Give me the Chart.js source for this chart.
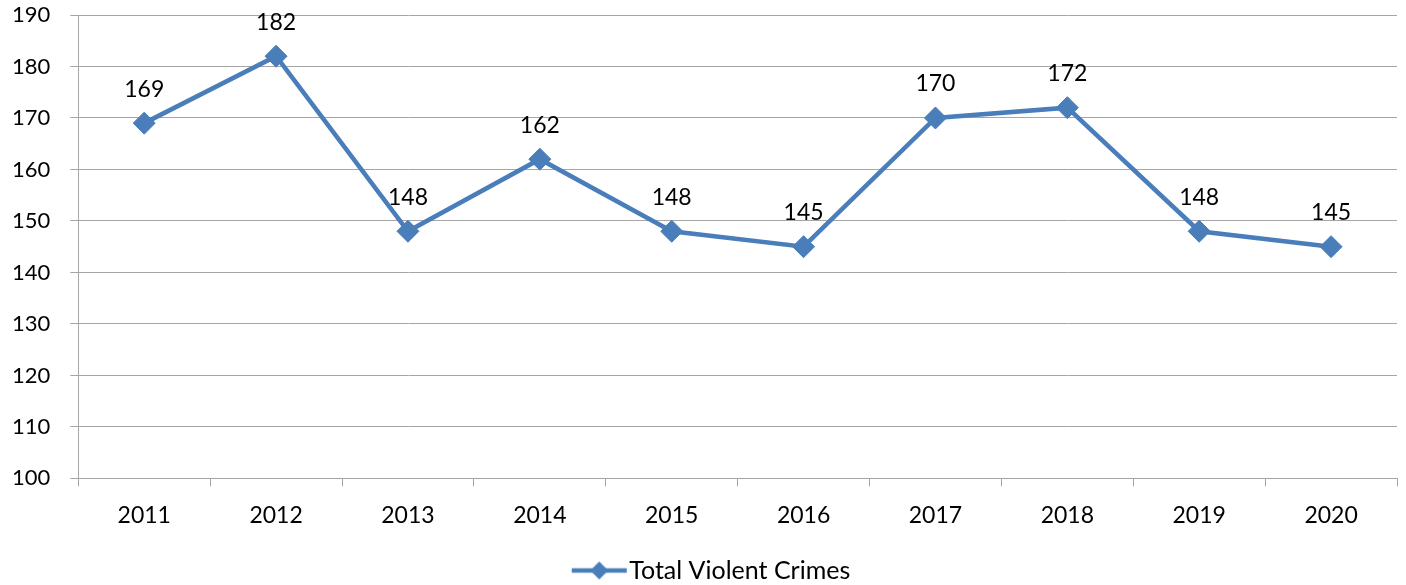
<!DOCTYPE html>
<html>
<head>
<meta charset="utf-8">
<script src="https://cdn.jsdelivr.net/npm/chart.js@4/dist/chart.umd.min.js"></script>
<style>
  html,body{margin:0;padding:0;background:#fff;}
  #wrap{width:1406px;height:585px;position:relative;}
</style>
</head>
<body>
<div id="wrap"><canvas id="c" width="1406" height="585"></canvas></div>
<script>
const categories = ['2011','2012','2013','2014','2015','2016','2017','2018','2019','2020'];
const violentCrimes = [169,182,148,162,148,145,170,172,148,145];
const seriesName = 'Total Violent Crimes';
const yTicks = [100,110,120,130,140,150,160,170,180,190];

const LINE = '#4a7ebb';
const FONT = 'Lato, "Open Sans", sans-serif';

// legend symbol: line with diamond (drawn in right part of a wider transparent image)
const sym = document.createElement('canvas');
sym.width = 100; sym.height = 22;
(function(){
  const g = sym.getContext('2d');
  const x0 = 44, x1 = 99, cx = (x0 + x1) / 2;
  g.strokeStyle = LINE; g.lineWidth = 4.5;
  g.beginPath(); g.moveTo(x0,11); g.lineTo(x1,11); g.stroke();
  g.fillStyle = LINE;
  g.beginPath(); g.moveTo(cx,2); g.lineTo(cx+9,11); g.lineTo(cx,20); g.lineTo(cx-9,11); g.closePath(); g.fill();
})();

const labelPlugin = {
  id: 'valLabels',
  afterDatasetsDraw(chart){
    const ctx = chart.ctx;
    const meta = chart.getDatasetMeta(0);
    ctx.save();
    ctx.font = '23px ' + FONT;
    ctx.fillStyle = '#000';
    ctx.textAlign = 'center';
    ctx.textBaseline = 'middle';
    meta.data.forEach((pt,i)=>{
      ctx.fillText(String(chart.data.datasets[0].data[i]), pt.x, pt.y - 34);
    });
    ctx.restore();
  }
};

new Chart(document.getElementById('c'), {
  type: 'line',
  data: {
    labels: categories,
    datasets: [{
      label: seriesName,
      data: violentCrimes,
      borderColor: LINE,
      backgroundColor: LINE,
      borderWidth: 4.5,
      pointStyle: 'rectRot',
      pointRadius: 11,
      pointBorderWidth: 1,
      pointBackgroundColor: LINE,
      pointBorderColor: LINE,
      tension: 0,
      fill: false,
      clip: false
    }]
  },
  options: {
    responsive: false,
    animation: false,
    layout: { autoPadding: false, padding: { top: 15, right: 9, left: -8, bottom: -8 } },
    plugins: {
      tooltip: { enabled: false },
      legend: {
        position: 'bottom',
        labels: {
          usePointStyle: true,
          pointStyleWidth: 78,
          boxHeight: 20,
          color: '#000',
          font: { family: FONT, size: 25 },
          padding: 14,
          generateLabels(chart){
            return [{ text: seriesName, pointStyle: sym, fillStyle: LINE, strokeStyle: LINE, lineWidth: 0, datasetIndex: 0 }];
          }
        }
      }
    },
    scales: {
      x: {
        offset: true,
        grid: { offset: true, drawOnChartArea: false, color: '#a6a6a6', tickLength: 8, tickColor: '#a6a6a6' },
        border: { color: '#a6a6a6', width: 1 },
        ticks: { color: '#000', font: { family: FONT, size: 23 }, padding: 15, maxRotation: 0 }
      },
      y: {
        min: 100, max: 190,
        afterBuildTicks(axis){ axis.ticks = yTicks.map(v=>({value:v})); },
        afterFit(axis){ axis.paddingTop = 0; },
        grid: { color: '#a6a6a6', tickLength: 8, tickColor: '#a6a6a6' },
        border: { color: '#a6a6a6', width: 1 },
        ticks: { color: '#000', font: { family: FONT, size: 22 }, padding: 20 }
      }
    }
  },
  plugins: [labelPlugin]
});
</script>
</body>
</html>
